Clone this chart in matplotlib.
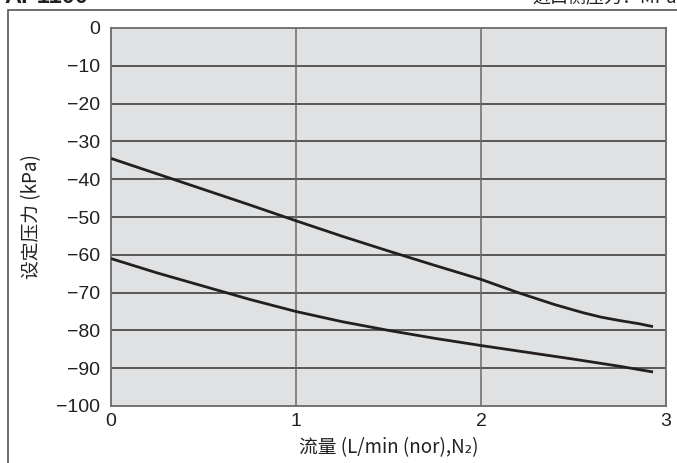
import matplotlib
matplotlib.use("Agg")
import matplotlib.pyplot as plt
from matplotlib.patches import Rectangle

plt.rcParams['font.family'] = ['Liberation Sans', 'Noto Sans CJK SC', 'DejaVu Sans']

# Flow rate (L/min) vs. set pressure (kPa)
flow_upper = [0.0, 0.25, 0.5, 0.75, 1.0, 1.25, 1.5, 1.75, 2.0, 2.2, 2.4, 2.55, 2.65, 2.75, 2.85, 2.93]
pres_upper = [-34.5, -38.6, -42.7, -46.8, -51.0, -55.1, -59.0, -62.8, -66.5, -70.0, -73.2, -75.3, -76.5, -77.4, -78.2, -79.0]

flow_lower = [0.0, 0.25, 0.5, 0.75, 1.0, 1.25, 1.5, 1.75, 2.0, 2.25, 2.5, 2.75, 2.93]
pres_lower = [-61.0, -64.8, -68.3, -71.8, -75.0, -77.7, -80.0, -82.1, -84.0, -85.8, -87.6, -89.5, -91.0]

x_ticks = [0, 1, 2, 3]
y_ticks = [0, -10, -20, -30, -40, -50, -60, -70, -80, -90, -100]
y_tick_labels = ['0', '−10', '−20', '−30', '−40', '−50', '−60', '−70', '−80', '−90', '−100']

W, H = 677, 463
fig = plt.figure(figsize=(W / 100, H / 100), dpi=100)
ax = fig.add_axes([111 / W, 1 - 406 / H, (666 - 111) / W, (406 - 28) / H])

ax.set_facecolor('#e0e1e2')
ax.set_xlim(0, 3)
ax.set_ylim(-100, 0)

# grid
for yv in y_ticks[1:-1]:
    ax.axhline(yv, color='#333333', lw=1.1, zorder=1)
for xv in x_ticks[1:-1]:
    ax.axvline(xv, color='#6a6a6a', lw=1.1, zorder=1)

ax.plot(flow_upper, pres_upper, color='#231f20', lw=2.0, zorder=3, solid_capstyle='butt')
ax.plot(flow_lower, pres_lower, color='#231f20', lw=2.0, zorder=3, solid_capstyle='butt')

for s in ax.spines.values():
    s.set_color('#6a6a6a')
    s.set_linewidth(1.3)

ax.set_xticks(x_ticks)
ax.set_xticklabels([str(v) for v in x_ticks])
ax.set_yticks(y_ticks)
ax.set_yticklabels(y_tick_labels)
ax.tick_params(length=0, labelsize=14, colors='#231f20', pad=8)
ax.tick_params(axis='x', pad=5)

ax.set_xlabel('流量 (L/min (nor),N₂)', fontsize=13.5, color='#231f20', labelpad=5,
              family=['Noto Sans CJK SC', 'DejaVu Sans'])
ax.set_ylabel('设定压力 (kPa)', fontsize=13.5, color='#231f20', labelpad=10,
              family=['Noto Sans CJK SC', 'DejaVu Sans'])

# outer frame
fig.patches.append(Rectangle((8 / W, -0.1), 1.2, 1 - 10 / H + 0.1, transform=fig.transFigure,
                             fill=False, edgecolor='#555555', lw=1.2))

# header (runs off the top edge)
fig.text(4 / W, 1 - 3 / H, 'AP1100', fontsize=17, fontweight='bold', color='#231f20',
         va='baseline', ha='left')
fig.text(1.0, 1 - 3 / H, '进口侧压力：MPa', fontsize=13, color='#231f20', va='baseline', ha='right',
         family=['Noto Sans CJK SC', 'DejaVu Sans'])

fig.savefig('out.png', dpi=100)
